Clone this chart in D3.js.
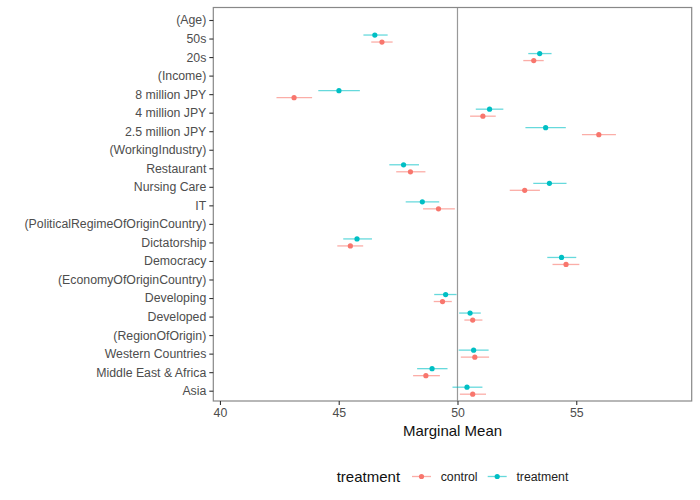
<!DOCTYPE html>
<html>
<head>
<meta charset="utf-8">
<script src="https://cdn.jsdelivr.net/npm/d3@7"></script>
<style>
  body { margin: 0; background: #fff; }
  text { font-family: "Liberation Sans", Arial, sans-serif; }
</style>
</head>
<body>
<div id="chart"></div>
<script>
(function() {
"use strict";

// attribute levels, top to bottom; headers have no estimates
var levels = ["(Age)", "50s", "20s", "(Income)", "8 million JPY", "4 million JPY",
    "2.5 million JPY", "(WorkingIndustry)", "Restaurant", "Nursing Care", "IT",
    "(PoliticalRegimeOfOriginCountry)", "Dictatorship", "Democracy",
    "(EconomyOfOriginCountry)", "Developing", "Developed", "(RegionOfOrigin)",
    "Western Countries", "Middle East & Africa", "Asia"];

var estLevels = ["50s", "20s", "8 million JPY", "4 million JPY", "2.5 million JPY",
    "Restaurant", "Nursing Care", "IT", "Dictatorship", "Democracy",
    "Developing", "Developed", "Western Countries", "Middle East & Africa", "Asia"];

var controlMean  = [46.82, 53.21, 43.12, 51.07, 55.95, 48.02, 52.83, 49.20, 45.49, 54.57, 49.37, 50.64, 50.73, 48.67, 50.64];
var controlLower = [46.37, 52.77, 42.38, 50.53, 55.24, 47.42, 52.20, 48.55, 44.94, 54.00, 49.00, 50.29, 50.14, 48.13, 50.10];
var controlUpper = [47.27, 53.63, 43.88, 51.61, 56.67, 48.65, 53.47, 49.89, 46.03, 55.13, 49.76, 51.05, 51.33, 49.26, 51.20];

var treatMean  = [46.52, 53.46, 45.01, 51.35, 53.71, 47.73, 53.87, 48.52, 45.77, 54.38, 49.50, 50.53, 50.68, 48.93, 50.40];
var treatLower = [46.04, 52.98, 44.14, 50.77, 52.86, 47.13, 53.19, 47.82, 45.19, 53.78, 49.02, 50.07, 50.05, 48.30, 49.79];
var treatUpper = [47.06, 53.96, 45.89, 51.93, 54.56, 48.38, 54.59, 49.23, 46.40, 55.00, 49.96, 50.98, 51.31, 49.58, 51.05];

var xTicks = [40, 45, 50, 55];
var groups = ["control", "treatment"];
var colors = ["#F8766D", "#00BFC4"];

var W = 700, H = 500;
var left = 213.3, right = 691.7, top = 7.5, bottom = 401;

var svg = d3.select("#chart").append("svg")
    .attr("width", W).attr("height", H);

var x = d3.scaleLinear().domain([39.72, 59.86]).range([left, right]);
var y = d3.scalePoint().domain(levels).range([20, 390.7]);

var series = [
    { name: "control", color: colors[0], off: 3.5, m: controlMean, lo: controlLower, hi: controlUpper },
    { name: "treatment", color: colors[1], off: -3.5, m: treatMean, lo: treatLower, hi: treatUpper }
];

// reference line at 50
svg.append("line")
    .attr("x1", x(50)).attr("x2", x(50))
    .attr("y1", top).attr("y2", bottom)
    .attr("stroke", "#999").attr("stroke-width", 1.2);

series.forEach(function(s) {
    var g = svg.append("g");
    var rows = estLevels.map(function(l, i) {
        return { level: l, m: s.m[i], lo: s.lo[i], hi: s.hi[i] };
    });
    g.selectAll("line").data(rows).enter().append("line")
        .attr("x1", function(d) { return x(d.lo); })
        .attr("x2", function(d) { return x(d.hi); })
        .attr("y1", function(d) { return y(d.level) + s.off; })
        .attr("y2", function(d) { return y(d.level) + s.off; })
        .attr("stroke", s.color).attr("stroke-opacity", 0.6).attr("stroke-width", 1.3);
    g.selectAll("circle").data(rows).enter().append("circle")
        .attr("cx", function(d) { return x(d.m); })
        .attr("cy", function(d) { return y(d.level) + s.off; })
        .attr("r", 2.6)
        .attr("fill", s.color);
});

// panel border
svg.append("rect")
    .attr("x", left).attr("y", top)
    .attr("width", right - left).attr("height", bottom - top)
    .attr("fill", "none").attr("stroke", "#888").attr("stroke-width", 1.2);

// axes
var yAxis = svg.append("g")
    .attr("transform", "translate(" + left + ",0)")
    .call(d3.axisLeft(y).tickSize(4).tickPadding(3));
var xAxis = svg.append("g")
    .attr("transform", "translate(0," + bottom + ")")
    .call(d3.axisBottom(x).tickValues(xTicks).tickSize(4).tickPadding(3));

[yAxis, xAxis].forEach(function(a) {
    a.select(".domain").remove();
    a.selectAll(".tick line").attr("stroke", "#333").attr("stroke-width", 1.1);
    a.selectAll(".tick text").attr("fill", "#4d4d4d")
        .style("font-size", "12.3px")
        .style("font-family", "'Liberation Sans', Arial, sans-serif");
});

svg.append("text")
    .attr("x", (left + right) / 2).attr("y", 436)
    .attr("text-anchor", "middle")
    .style("font-size", "15px")
    .attr("fill", "#111")
    .text("Marginal Mean");

// legend
var legY = 476.5;
svg.append("text")
    .attr("x", 336.7).attr("y", legY + 5)
    .style("font-size", "15px").attr("fill", "#111")
    .text("treatment");

var keyX = [412, 487.7];
groups.forEach(function(name, i) {
    var k = svg.append("g").attr("transform", "translate(" + keyX[i] + "," + legY + ")");
    k.append("line").attr("x1", 0).attr("x2", 19)
        .attr("stroke", colors[i]).attr("stroke-opacity", 0.6).attr("stroke-width", 1.3);
    k.append("circle").attr("cx", 9.5).attr("r", 2.6).attr("fill", colors[i]);
    k.append("text").attr("x", 28.7).attr("y", 4.3)
        .style("font-size", "12.3px").attr("fill", "#222")
        .text(name);
});

})();
</script>
</body>
</html>
